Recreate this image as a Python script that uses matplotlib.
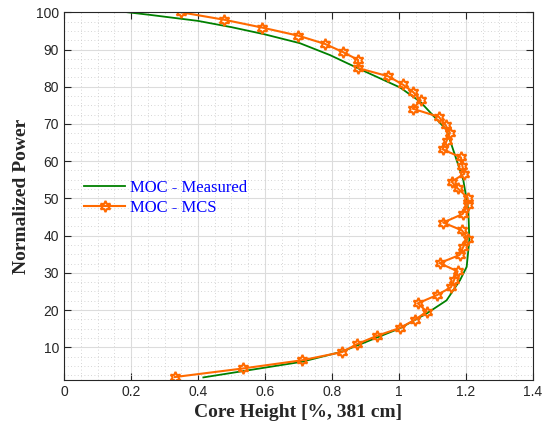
import matplotlib
matplotlib.use("Agg")
import matplotlib.pyplot as plt
from matplotlib.ticker import MultipleLocator

# MOC - Measured (green curve)
meas_x = [0.190, 0.257, 0.399, 0.500, 0.598, 0.704, 0.794, 0.879, 1.003, 1.063,
          1.142, 1.172, 1.192, 1.207, 1.210, 1.202, 1.182, 1.142, 1.083, 1.003,
          0.829, 0.710, 0.416]
meas_y = [100.0, 99.3, 97.7, 96.0, 94.1, 91.7, 88.5, 84.9, 79.8, 76.0,
          68.4, 60.3, 54.9, 46.9, 38.8, 31.6, 28.0, 22.6, 19.1, 15.1,
          8.8, 6.1, 1.9]

# MOC - MCS (orange markers)
mcs_x = [0.349, 0.478, 0.591, 0.700, 0.779, 0.833, 0.878, 0.878, 0.968, 1.011,
         1.043, 1.065, 1.041, 1.119, 1.139, 1.152, 1.142, 1.130, 1.185, 1.189,
         1.195, 1.157, 1.175, 1.205, 1.205, 1.190, 1.132, 1.188, 1.205, 1.192,
         1.181, 1.121, 1.175, 1.165, 1.155, 1.113, 1.056, 1.083, 1.048, 1.003,
         0.935, 0.876, 0.830, 0.710, 0.534, 0.331]
mcs_y = [100.0, 98.0, 95.9, 93.7, 91.5, 89.3, 87.2, 85.0, 82.8, 80.6,
         78.5, 76.3, 74.1, 71.9, 69.7, 67.6, 65.4, 63.2, 61.0, 58.8,
         56.6, 54.5, 52.7, 50.2, 48.1, 45.8, 43.5, 41.4, 39.2, 37.0,
         34.8, 32.6, 30.4, 28.2, 26.1, 24.0, 21.8, 19.6, 17.4, 15.2,
         13.1, 10.9, 8.7, 6.5, 4.3, 2.0]

plt.rcParams['font.family'] = ['Liberation Sans', 'DejaVu Sans']

fig = plt.figure(figsize=(5.48, 4.34), dpi=100)
ax = fig.add_axes([0.1168, 0.1244, 0.8558, 0.8473])

ax.plot(meas_x, meas_y, color='#008000', lw=1.3, label='MOC - Measured')
ax.plot(mcs_x, mcs_y, color='#FF6A00', lw=1.5, marker=(6, 1, 0), ms=8,
        mfc='none', mew=1.5, label='MOC - MCS')

ax.set_xlim(0, 1.4)
ax.set_ylim(1.2, 100)
ax.xaxis.set_major_locator(MultipleLocator(0.2))
ax.xaxis.set_minor_locator(MultipleLocator(0.05))
ax.yaxis.set_major_locator(MultipleLocator(10))
ax.yaxis.set_minor_locator(MultipleLocator(2.5))
ax.set_xticks([0, 0.2, 0.4, 0.6, 0.8, 1.0, 1.2, 1.4])
ax.set_xticklabels(['0', '0.2', '0.4', '0.6', '0.8', '1', '1.2', '1.4'])

ax.grid(which='major', color='#dcdcdc', lw=0.8)
ax.grid(which='minor', color='#c8c8c8', lw=0.6, ls=(0, (1, 3)))
ax.set_axisbelow(True)

ax.tick_params(which='major', direction='in', length=5, top=True, right=True,
               labelsize=10, colors='#262626', width=0.8)
ax.tick_params(which='minor', length=0)
for s in ax.spines.values():
    s.set_color('#262626')
    s.set_linewidth(0.8)

ax.set_xlabel('Core Height [%, 381 cm]', family='Liberation Serif',
              fontweight='bold', fontsize=14, color='#262626')
ax.set_ylabel('Normalized Power', family='Liberation Serif',
              fontweight='bold', fontsize=14, color='#262626')

leg = ax.legend(loc='upper left', bbox_to_anchor=(0.01, 0.585), frameon=False,
                prop={'family': 'Liberation Serif', 'size': 12},
                handlelength=2.5, handletextpad=0.3, labelspacing=0.25)
for t in leg.get_texts():
    t.set_color('blue')

fig.savefig('out.png', dpi=100)
